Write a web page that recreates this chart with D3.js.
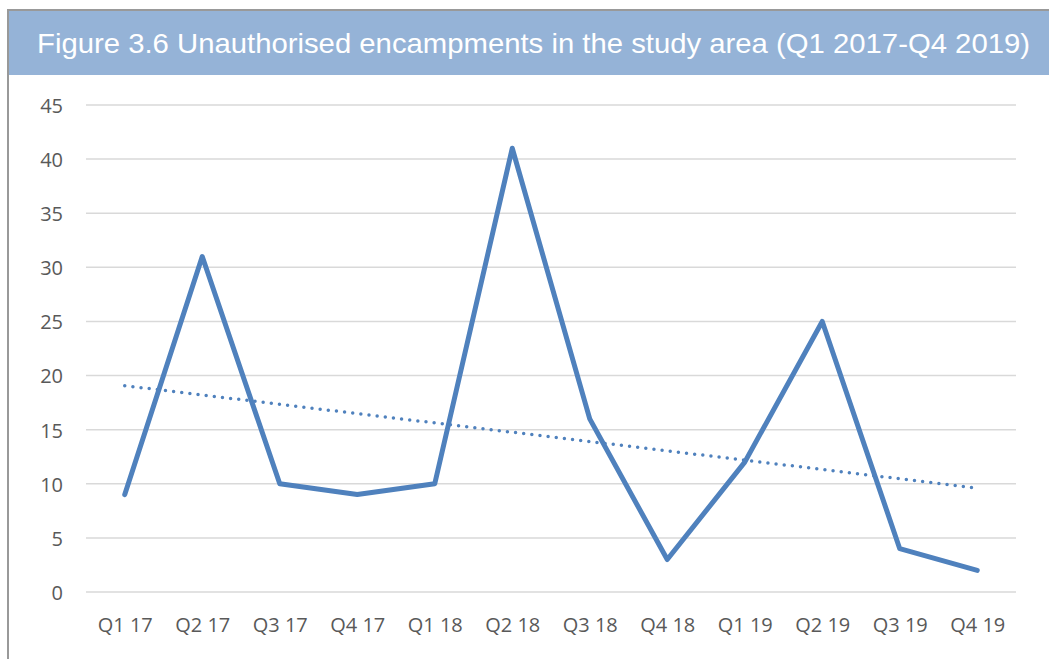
<!DOCTYPE html>
<html>
<head>
<meta charset="utf-8">
<script src="https://cdn.jsdelivr.net/npm/d3@7"></script>
<style>
  body { margin: 0; background: #fff; }
  svg { display: block; }
</style>
</head>
<body>
<svg id="chart" width="1049" height="659"></svg>
<script>
// chart data
var quarters = ["Q1 17", "Q2 17", "Q3 17", "Q4 17", "Q1 18", "Q2 18",
                "Q3 18", "Q4 18", "Q1 19", "Q2 19", "Q3 19", "Q4 19"];
var encampments = [9, 31, 10, 9, 10, 41, 16, 3, 12, 25, 4, 2];
var yTicks = [0, 5, 10, 15, 20, 25, 30, 35, 40, 45];
var title = "Figure 3.6 Unauthorised encampments in the study area (Q1 2017-Q4 2019)";

var svg = d3.select("#chart");

// frame and header band
svg.append("rect")
    .attr("x", 9).attr("y", 10)
    .attr("width", 1040).attr("height", 65)
    .attr("fill", "#95B3D7");
svg.append("line")
    .attr("x1", 7).attr("x2", 1049)
    .attr("y1", 10).attr("y2", 10)
    .attr("stroke", "#999").attr("stroke-width", 2);
svg.append("line")
    .attr("x1", 8).attr("x2", 8)
    .attr("y1", 9).attr("y2", 659)
    .attr("stroke", "#999").attr("stroke-width", 2);

svg.append("text")
    .attr("x", 37).attr("y", 53)
    .attr("font-family", "Liberation Sans, Arial, sans-serif")
    .attr("font-size", 28)
    .attr("fill", "#fff")
    .attr("textLength", 993)
    .attr("lengthAdjust", "spacingAndGlyphs")
    .text(title);

var x = d3.scalePoint()
    .domain(quarters)
    .range([86, 1016])
    .padding(0.5);

var y = d3.scaleLinear()
    .domain([0, 45])
    .range([592, 105]);

// gridlines
svg.append("g")
    .selectAll("line")
    .data(yTicks)
    .enter()
    .append("line")
    .attr("x1", 86).attr("x2", 1016)
    .attr("y1", function(d) { return y(d); })
    .attr("y2", function(d) { return y(d); })
    .attr("stroke", "#D9D9D9")
    .attr("stroke-width", 1.5);

// y axis labels
var yAxis = d3.axisLeft(y).tickValues(yTicks).tickSize(0).tickPadding(0);
var gy = svg.append("g")
    .attr("transform", "translate(63,1)")
    .call(yAxis);
gy.select(".domain").remove();
gy.selectAll("text")
    .attr("font-family", "Open Sans, Noto Sans, sans-serif")
    .attr("font-size", 20)
    .attr("fill", "#595959");

// x axis labels
var xAxis = d3.axisBottom(x).tickSize(0).tickPadding(0);
var gx = svg.append("g")
    .attr("transform", "translate(0,618)")
    .call(xAxis);
gx.select(".domain").remove();
gx.selectAll("text")
    .attr("font-family", "Open Sans, Noto Sans, sans-serif")
    .attr("font-size", 20)
    .attr("fill", "#595959");

// linear trendline from the data
var n = encampments.length;
var mx = d3.mean(d3.range(1, n + 1));
var my = d3.mean(encampments);
var sxy = 0, sxx = 0;
for (var i = 0; i < n; i++) {
    sxy += (i + 1 - mx) * (encampments[i] - my);
    sxx += (i + 1 - mx) * (i + 1 - mx);
}
var slope = sxy / sxx;
var trend = [1, n].map(function(k) { return my + slope * (k - mx); });

svg.append("line")
    .attr("x1", x(quarters[0])).attr("y1", y(trend[0]))
    .attr("x2", x(quarters[n - 1])).attr("y2", y(trend[1]))
    .attr("stroke", "#4F81BD")
    .attr("stroke-width", 3.5)
    .attr("stroke-linecap", "round")
    .attr("stroke-dasharray", "0 8.2");

// main series
var line = d3.line()
    .x(function(d, i) { return x(quarters[i]); })
    .y(function(d) { return y(d); });

svg.append("path")
    .datum(encampments)
    .attr("d", line)
    .attr("fill", "none")
    .attr("stroke", "#4F81BD")
    .attr("stroke-width", 5)
    .attr("stroke-linecap", "round")
    .attr("stroke-linejoin", "round");
</script>
</body>
</html>
